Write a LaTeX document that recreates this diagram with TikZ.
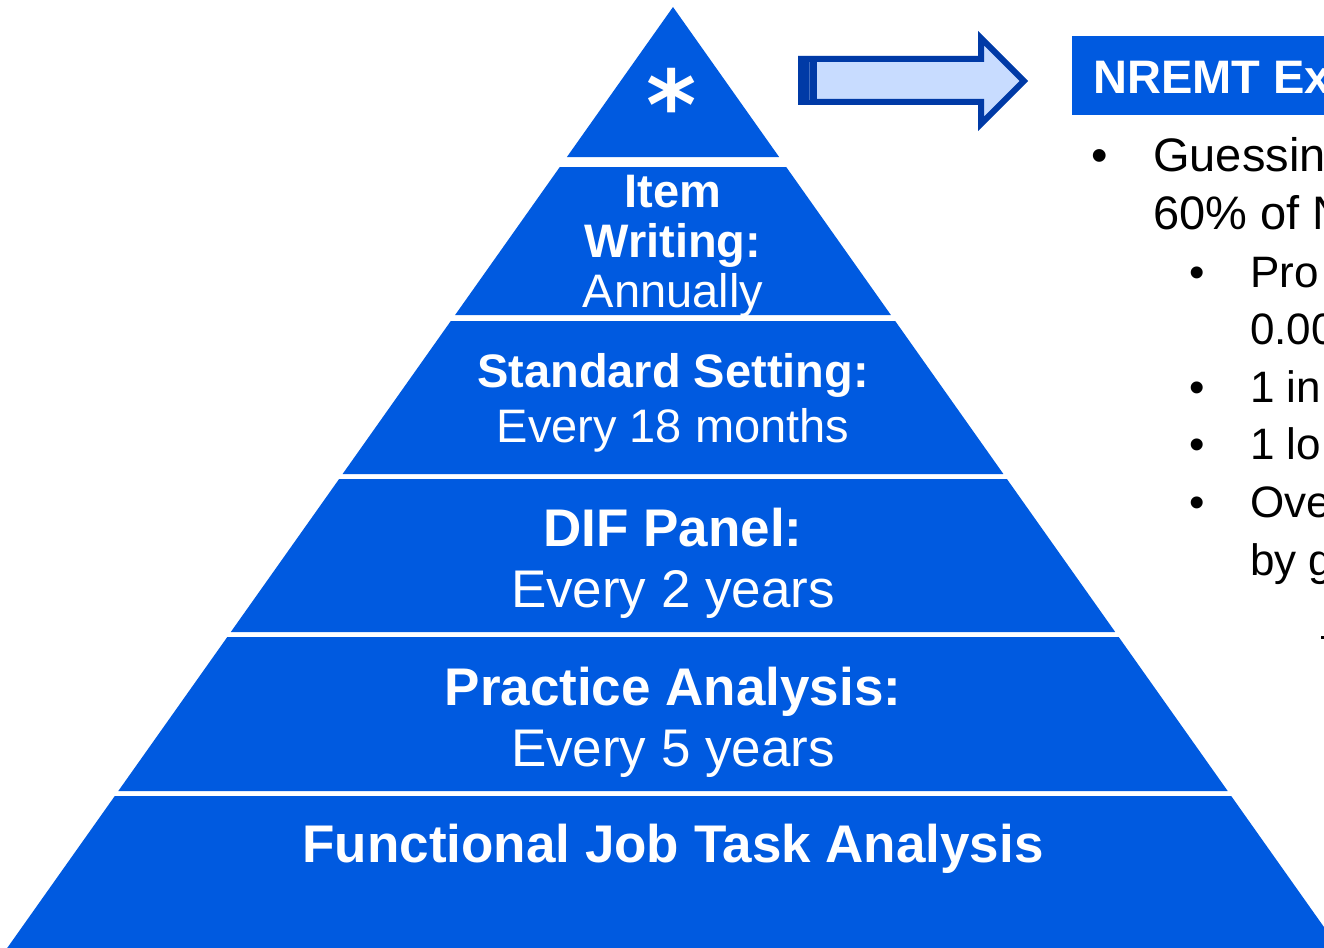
\documentclass[tikz,border=0pt]{standalone}
\usepackage{fontspec}
\setmainfont{Liberation Sans}
\newfontfamily\starfont{DejaVu Sans}
\definecolor{pyr}{HTML}{005AE0}
\definecolor{arrdark}{HTML}{003AA6}
\definecolor{arrlight}{HTML}{C8DCFF}
\definecolor{stripe}{HTML}{3F6CC0}
\begin{document}
\begin{tikzpicture}[x=1pt,y=-1pt,
  band/.style={fill=pyr},
  ptb/.style={text=white,inner sep=0,anchor=base,font=\fontsize{47}{47}\selectfont\bfseries},
  ptr/.style={text=white,inner sep=0,anchor=base,font=\fontsize{47}{47}\selectfont},
  pbb/.style={text=white,inner sep=0,anchor=base,font=\fontsize{53}{53}\selectfont\bfseries},
  pbr/.style={text=white,inner sep=0,anchor=base,font=\fontsize{53}{53}\selectfont},
  lone/.style={inner sep=0,anchor=base west,font=\fontsize{47}{47}\selectfont},
  ltwo/.style={inner sep=0,anchor=base west,font=\fontsize{44}{44}\selectfont},
  bul/.style={inner sep=0,anchor=base,font=\fontsize{47}{47}\selectfont},
  bultwo/.style={inner sep=0,anchor=base,font=\fontsize{44}{44}\selectfont}
]
\useasboundingbox (0,0) rectangle (1324,947);
\clip (0,0) rectangle (1324,947);

% pyramid bands
\fill[band] (673,7) -- (779.1,157) -- (566.9,157) -- cycle;
\fill[band] (559.8,167) -- (786.2,167) -- (890.9,315) -- (455.1,315) -- cycle;
\fill[band] (450.8,321) -- (895.2,321) -- (1003.4,474) -- (342.6,474) -- cycle;
\fill[band] (339.1,479) -- (1006.9,479) -- (1115.2,632) -- (230.8,632) -- cycle;
\fill[band] (227.3,637) -- (1118.7,637) -- (1227.7,791) -- (118.3,791) -- cycle;
\fill[band] (114.8,796) -- (1231.2,796) -- (1347.3,960) -- (-1.3,960) -- cycle;

% pyramid labels
\node[text=white,inner sep=0,anchor=north,font=\fontsize{96}{96}\selectfont\starfont\bfseries] (star) at (672,68) {*};
\node[ptb] (item) at (673,207) {Item};
\node[ptb] (writing) at (673,257) {Writing:};
\node[ptr] (annually) at (673,307) {Annually};
\node[ptb] (std) at (673,387) {Standard Setting:};
\node[ptr] (std2) at (673,442) {Every 18 months};
\node[pbb] (dif) at (673,546) {DIF Panel:};
\node[pbr] (dif2) at (673,607) {Every 2 years};
\node[pbb] (prac) at (673,705) {Practice Analysis:};
\node[pbr] (prac2) at (673,766) {Every 5 years};
\node[pbb] (fjta) at (673,862) {Functional Job Task Analysis};

% arrow
\fill[arrlight] (798,56) -- (978,56) -- (978,31) -- (1028,81) -- (978,131) -- (978,105) -- (798,105) -- cycle;
\draw[arrdark,line width=6,line join=miter] (801,59) -- (981,59) -- (981,38.2) -- (1023.8,81) -- (981,123.8) -- (981,102) -- (801,102) -- cycle;
\fill[arrdark] (798,56) rectangle (817,105);
\draw[stripe,line width=1] (809.5,62) -- (809.5,100);

% header box
\fill[pyr] (1072,36) rectangle (1340,115);
\node[inner sep=0,anchor=base west,text=white,font=\fontsize{47}{47}\selectfont\bfseries] (title) at (1093,94) {NREMT Ex};

% bullet text
\node[bul] (b1) at (1100,171) {•};
\node[lone] (t1) at (1153,171) {Guessin};
\node[lone] (t2) at (1153,229) {60\% of N};
\node[bultwo] (b2) at (1197,287) {•};
\node[ltwo] (t3) at (1250,287) {Pro};
\node[ltwo] (t4) at (1250,344) {0.00};
\node[bultwo] (b3) at (1197,402) {•};
\node[ltwo] (t5) at (1250,402) {1 in};
\node[bultwo] (b4) at (1197,459) {•};
\node[ltwo] (t6) at (1250,459) {1 lo};
\node[bultwo] (b5) at (1197,517) {•};
\node[ltwo] (t7) at (1250,517) {Ove};
\node[ltwo] (t8) at (1250,575) {by g};
\fill[black] (1321,636) rectangle (1324,638.5);
\end{tikzpicture}
\end{document}
